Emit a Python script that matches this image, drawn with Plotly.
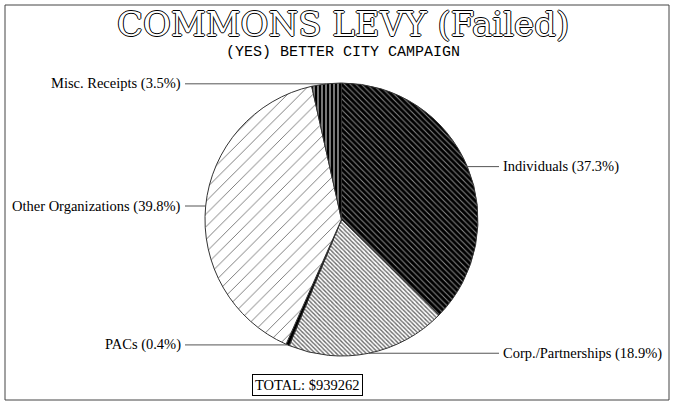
import math
import plotly.graph_objects as go

W, H = 674, 403

# data
categories = ["Individuals", "Corp./Partnerships", "PACs", "Other Organizations", "Misc. Receipts"]
shares = [37.3, 18.9, 0.4, 39.8, 3.5]
total_raised = 939262

# slice looks (bw hatch like the old printout)
bg_cols = ["#000000", "#ffffff", "#000000", "#ffffff", "#000000"]
fg_cols = ["#8a8a8a", "#6a6a6a", "#000000", "#707070", "#c8c8c8"]
hatch = ["\\", "\\", "", "/", "|"]
hatch_size = [4, 3, 4, 9, 4]
hatch_solid = [0.25, 0.45, 0.3, 0.1, 0.3]

# pie placement in pixels
cx, cy, r = 341.5, 219.5, 136.5
left_end, right_start = 183, 501


def px(x):
    return x / W


def py(y):
    return 1 - y / H


fig = go.Figure()
fig.add_trace(go.Pie(
    values=shares,
    labels=categories,
    sort=False,
    direction="clockwise",
    rotation=0,
    textinfo="none",
    hoverinfo="label+percent",
    showlegend=False,
    domain=dict(x=[px(cx - r), px(cx + r)], y=[py(cy + r), py(cy - r)]),
    marker=dict(
        colors=bg_cols,
        line=dict(color="#333333", width=1),
        pattern=dict(shape=hatch, fgcolor=fg_cols, bgcolor=bg_cols,
                     size=hatch_size, solidity=hatch_solid, fillmode="replace"),
    ),
))

shapes = []
annotations = []

# leader lines + labels at mid angle of each slice
tot = sum(shares)
cum = 0
for name, v in zip(categories, shares):
    mid = (cum + v / 2) / tot * 2 * math.pi
    cum += v
    ex = cx + r * math.sin(mid)
    ey = cy - r * math.cos(mid)
    txt = f"{name} ({v}%)"
    if ex < cx:
        shapes.append(dict(type="line", xref="paper", yref="paper",
                           x0=px(left_end + 2), x1=px(ex), y0=py(ey), y1=py(ey),
                           line=dict(color="#555555", width=1)))
        annotations.append(dict(x=px(left_end), y=py(ey), xanchor="right", text=txt))
    else:
        shapes.append(dict(type="line", xref="paper", yref="paper",
                           x0=px(ex), x1=px(right_start - 2), y0=py(ey), y1=py(ey),
                           line=dict(color="#555555", width=1)))
        annotations.append(dict(x=px(right_start), y=py(ey), xanchor="left", text=txt))

for a in annotations:
    a.update(xref="paper", yref="paper", yanchor="middle", showarrow=False,
             font=dict(family="Liberation Serif", size=14.5, color="#000000"))

# outer frame
shapes.append(dict(type="rect", xref="paper", yref="paper",
                   x0=px(5), x1=px(669), y0=py(400), y1=py(5),
                   line=dict(color="#444444", width=1)))

# title (outlined letters)
outline = "1px 0 0 #000, -1px 0 0 #000, 0 1px 0 #000, 0 -1px 0 #000"
annotations.append(dict(
    x=px(343), y=py(24), xref="paper", yref="paper", showarrow=False,
    xanchor="center", yanchor="middle",
    text="COMMONS LEVY (Failed)",
    font=dict(family="DejaVu Serif", size=34, color="#ffffff", shadow=outline),
))
annotations.append(dict(
    x=px(343), y=py(52), xref="paper", yref="paper", showarrow=False,
    xanchor="center", yanchor="middle",
    text="(YES) BETTER CITY CAMPAIGN",
    font=dict(family="Liberation Mono", size=15, color="#000000"),
))

# total box
annotations.append(dict(
    x=px(307), y=py(385), xref="paper", yref="paper", showarrow=False,
    xanchor="center", yanchor="middle",
    text=f"TOTAL: ${total_raised}",
    font=dict(family="Liberation Serif", size=14.5, color="#000000"),
    bordercolor="#000000", borderwidth=1, borderpad=2, bgcolor="#ffffff",
))

fig.update_layout(
    width=W, height=H,
    margin=dict(l=0, r=0, t=0, b=0),
    paper_bgcolor="#ffffff",
    plot_bgcolor="#ffffff",
    shapes=shapes,
    annotations=annotations,
)

fig.write_html("out.html", config={"displayModeBar": False},
               post_script="document.body.style.margin='0';")
